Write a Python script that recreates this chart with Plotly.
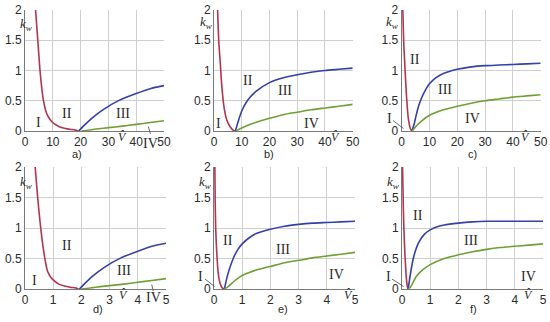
import plotly.graph_objects as go

W, H = 550, 322

# ---------------- data ----------------
x_ticks_top = [0, 10, 20, 30, 40, 50]
x_ticks_bot = [0, 1, 2, 3, 4, 5]
y_ticks = [0, 0.5, 1, 1.5, 2]
y_ticktext = ["0", "0.5", "1", "1.5", "2"]

# panel a
a_red_x = [3.8, 4.6, 5.5, 6.6, 7.8, 9.0, 10.2, 12.0, 13.8, 16.0, 18.0, 19.2]
a_red_y = [2.0, 1.5, 0.95, 0.51, 0.29, 0.19, 0.13, 0.08, 0.05, 0.03, 0.015, 0.0]
a_blue_x = [19.3, 21, 24, 28, 34, 40, 45, 50]
a_blue_y = [0.0, 0.08, 0.21, 0.35, 0.51, 0.62, 0.70, 0.75]
a_green_x = [20.3, 25, 30, 35, 40, 45, 50]
a_green_y = [0.0, 0.03, 0.055, 0.08, 0.11, 0.14, 0.17]

# panel b
b_red_x = [1.3, 1.7, 2.3, 2.8, 3.6, 4.6, 5.8, 7.0, 7.7]
b_red_y = [2.0, 1.5, 1.1, 0.75, 0.4, 0.18, 0.07, 0.01, 0.0]
b_blue_x = [7.7, 9, 10, 12, 15, 20, 25, 30, 35, 40, 45, 50]
b_blue_y = [0.0, 0.2, 0.33, 0.5, 0.65, 0.8, 0.88, 0.93, 0.97, 1.0, 1.02, 1.04]
b_green_x = [7.9, 10, 12, 15, 20, 25, 30, 35, 40, 45, 50]
b_green_y = [0.0, 0.05, 0.09, 0.14, 0.21, 0.27, 0.31, 0.35, 0.38, 0.41, 0.44]

# panel c
c_red_x = [0.4, 0.7, 1.0, 1.4, 1.7, 2.0, 2.3, 2.7, 3.1, 3.7]
c_red_y = [2.0, 1.5, 1.2, 0.85, 0.6, 0.4, 0.24, 0.12, 0.04, 0.0]
c_blue_x = [3.7, 4.5, 5, 6, 7, 8, 10, 12, 15, 20, 25, 30, 35, 40, 45, 50]
c_blue_y = [0.0, 0.12, 0.22, 0.4, 0.53, 0.63, 0.78, 0.87, 0.95, 1.02, 1.06, 1.08, 1.09, 1.10, 1.11, 1.12]
c_green_x = [3.8, 5, 7, 10, 15, 20, 25, 30, 35, 40, 45, 50]
c_green_y = [0.0, 0.07, 0.16, 0.26, 0.35, 0.41, 0.46, 0.50, 0.53, 0.56, 0.58, 0.60]

# panel d
d_red_x = [0.36, 0.45, 0.57, 0.7, 0.8, 0.92, 1.05, 1.2, 1.4, 1.6, 1.8, 1.9]
d_red_y = [2.0, 1.5, 0.95, 0.51, 0.29, 0.19, 0.13, 0.08, 0.05, 0.03, 0.015, 0.0]
d_blue_x = [1.93, 2.1, 2.4, 2.8, 3.4, 4.0, 4.5, 5.0]
d_blue_y = [0.0, 0.08, 0.21, 0.35, 0.51, 0.62, 0.70, 0.75]
d_green_x = [2.0, 2.5, 3.0, 3.5, 4.0, 4.5, 5.0]
d_green_y = [0.0, 0.03, 0.055, 0.08, 0.11, 0.14, 0.17]

# panel e
e_red_x = [0.03, 0.04, 0.06, 0.1, 0.15, 0.2, 0.25, 0.3, 0.37]
e_red_y = [2.0, 1.5, 1.0, 0.58, 0.26, 0.12, 0.05, 0.015, 0.0]
e_blue_x = [0.37, 0.45, 0.55, 0.7, 0.85, 1.0, 1.25, 1.5, 2.0, 2.5, 3.0, 3.5, 4.0, 4.5, 5.0]
e_blue_y = [0.0, 0.17, 0.33, 0.52, 0.65, 0.74, 0.84, 0.91, 0.98, 1.03, 1.06, 1.08, 1.09, 1.10, 1.11]
e_green_x = [0.37, 0.5, 0.75, 1.0, 1.5, 2.0, 2.5, 3.0, 3.5, 4.0, 4.5, 5.0]
e_green_y = [0.0, 0.04, 0.14, 0.22, 0.31, 0.37, 0.43, 0.47, 0.51, 0.54, 0.57, 0.60]

# panel f
f_red_x = [0.02, 0.04, 0.06, 0.1, 0.13, 0.16, 0.19, 0.22]
f_red_y = [2.0, 1.5, 1.1, 0.6, 0.35, 0.15, 0.04, 0.0]
f_blue_x = [0.22, 0.3, 0.4, 0.5, 0.6, 0.8, 1.0, 1.25, 1.5, 2.0, 2.5, 3.0, 4.0, 5.0]
f_blue_y = [0.0, 0.25, 0.5, 0.66, 0.77, 0.9, 0.97, 1.02, 1.05, 1.08, 1.10, 1.11, 1.11, 1.11]
f_green_x = [0.22, 0.3, 0.5, 0.75, 1.0, 1.5, 2.0, 2.5, 3.0, 3.5, 4.0, 4.5, 5.0]
f_green_y = [0.0, 0.03, 0.2, 0.32, 0.40, 0.50, 0.56, 0.61, 0.65, 0.68, 0.70, 0.72, 0.74]

panel_names = ["a)", "b)", "c)", "d)", "e)", "f)"]

# ---------------- styling / layout ----------------
RED, BLUE, GREEN = "#b3344f", "#3441a8", "#6ea035"
SERIF = "Liberation Serif"
SANS = "Liberation Sans"
GRID = "#cfcfcf"
AXLINE = "#7a7a7a"
TXT = "#2a2a2a"

# pixel boxes of each plot area: (x0, x1, ytop, ybottom)
boxes = [
    (25, 164, 10, 131), (214, 352.7, 10, 131), (401.7, 540.7, 10, 131),
    (25, 166, 167, 289), (214, 355, 167, 289), (402, 543, 167, 289),
]
xranges = [(0, 50)] * 3 + [(0, 5)] * 3
series = [
    (a_red_x, a_red_y, a_blue_x, a_blue_y, a_green_x, a_green_y),
    (b_red_x, b_red_y, b_blue_x, b_blue_y, b_green_x, b_green_y),
    (c_red_x, c_red_y, c_blue_x, c_blue_y, c_green_x, c_green_y),
    (d_red_x, d_red_y, d_blue_x, d_blue_y, d_green_x, d_green_y),
    (e_red_x, e_red_y, e_blue_x, e_blue_y, e_green_x, e_green_y),
    (f_red_x, f_red_y, f_blue_x, f_blue_y, f_green_x, f_green_y),
]


def PX(x):
    return x / W


def PY(y):
    return 1 - y / H


fig = go.Figure()
layout = {}
annotations = []
shapes = []

for i, (box, xr, s) in enumerate(zip(boxes, xranges, series), start=1):
    x0, x1, yt, yb = box
    xa = "x" if i == 1 else f"x{i}"
    ya = "y" if i == 1 else f"y{i}"
    ticks = x_ticks_top if i <= 3 else x_ticks_bot
    layout["xaxis" if i == 1 else f"xaxis{i}"] = dict(
        domain=[PX(x0), PX(x1)], range=list(xr), anchor=ya,
        tickvals=ticks, ticktext=[str(t) for t in ticks],
        showgrid=True, gridcolor=GRID, gridwidth=1,
        showline=True, linecolor=AXLINE, linewidth=1,
        zeroline=False, ticks="", fixedrange=True, automargin=False,
        tickfont=dict(family=SANS, size=12, color=TXT),
    )
    layout["yaxis" if i == 1 else f"yaxis{i}"] = dict(
        domain=[PY(yb), PY(yt)], range=[0, 2], anchor=xa,
        tickvals=y_ticks, ticktext=y_ticktext,
        showgrid=True, gridcolor=GRID, gridwidth=1,
        showline=True, linecolor=AXLINE, linewidth=1,
        zeroline=False, ticks="", fixedrange=True, automargin=False,
        tickfont=dict(family=SANS, size=12, color=TXT),
    )
    rx, ry, bx, by, gx, gy = s
    for (xx, yy, col) in ((rx, ry, RED), (bx, by, BLUE), (gx, gy, GREEN)):
        fig.add_trace(go.Scatter(
            x=xx, y=yy, mode="lines", xaxis=xa, yaxis=ya,
            line=dict(color=col, width=1.6, shape="spline", smoothing=0.7),
            showlegend=False, hoverinfo="skip",
        ))


def label_px(text, x, y, family=SERIF, size=14):
    annotations.append(dict(text=text, x=PX(x), y=PY(y), xref="paper", yref="paper",
                            xanchor="center", yanchor="middle", showarrow=False,
                            font=dict(family=family, size=size, color=TXT)))


def roman(text, i, x, y):
    xa = "x" if i == 1 else f"x{i}"
    ya = "y" if i == 1 else f"y{i}"
    annotations.append(dict(text=text, x=x, y=y, xref=xa, yref=ya, showarrow=False,
                            xanchor="center", yanchor="middle",
                            font=dict(family=SERIF, size=14, color=TXT)))


def leader(x0, y0, x1, y1):
    shapes.append(dict(type="line", xref="paper", yref="paper",
                       x0=PX(x0), y0=PY(y0), x1=PX(x1), y1=PY(y1),
                       line=dict(color="#444444", width=0.8)))


# panel a
roman("I", 1, 4.8, 0.14)
roman("II", 1, 15, 0.29)
roman("III", 1, 35.4, 0.29)
label_px("IV", 150, 143)
leader(148.3, 126.5, 150.5, 134)
# panel b
roman("I", 2, 1.6, 0.13)
roman("II", 2, 12.4, 0.83)
roman("III", 2, 25.6, 0.67)
roman("IV", 2, 35.2, 0.13)
# panel c
roman("II", 3, 4.8, 1.19)
roman("III", 3, 15.6, 0.68)
roman("IV", 3, 25.4, 0.21)
label_px("I", 389, 118)
leader(393, 120.5, 403.5, 128.5)
# panel d
roman("I", 4, 0.35, 0.14)
roman("II", 4, 1.48, 0.72)
roman("III", 4, 3.5, 0.31)
label_px("IV", 153.3, 297)
leader(151.7, 284.5, 153.3, 291)
# panel e
roman("II", 5, 0.51, 0.79)
roman("III", 5, 2.46, 0.65)
roman("IV", 5, 4.35, 0.23)
label_px("I", 200.7, 276)
leader(205, 279, 214.5, 286.5)
# panel f
roman("II", 6, 0.58, 1.2)
roman("III", 6, 2.45, 0.8)
roman("IV", 6, 4.5, 0.21)
label_px("I", 388.7, 276.5)
leader(392, 279, 403.5, 286.5)

# V-hat axis titles
vhat_pos = [(122.7, 137), (335, 137), (525, 137), (123.3, 295), (348.3, 295), (528.3, 295)]
for (x, y) in vhat_pos:
    label_px("<i>V\u0302</i>", x, y, SERIF, 12)

# k_w labels
kw_pos = [(25.5, 24), (205.5, 23), (391.5, 23), (25.5, 182), (204.5, 182), (392.5, 182)]
for (x, y) in kw_pos:
    label_px("<i>k</i><sub><i>w</i></sub>", x, y, SERIF, 13)

# panel captions
cap_pos = [(77.3, 154), (269, 154), (472.7, 154), (98.3, 309.3), (283.3, 309.3), (473, 309.3)]
for name, (x, y) in zip(panel_names, cap_pos):
    label_px(name, x, y, SANS, 11)

fig.update_layout(
    width=W, height=H, margin=dict(l=0, r=0, t=0, b=0, autoexpand=False),
    autosize=False,
    paper_bgcolor="white", plot_bgcolor="white",
    annotations=annotations, shapes=shapes, showlegend=False,
    **layout,
)

fig.write_html("out.html", config={"displayModeBar": False, "staticPlot": True},
               post_script="document.body.style.margin='0';document.body.style.overflow='hidden';")
